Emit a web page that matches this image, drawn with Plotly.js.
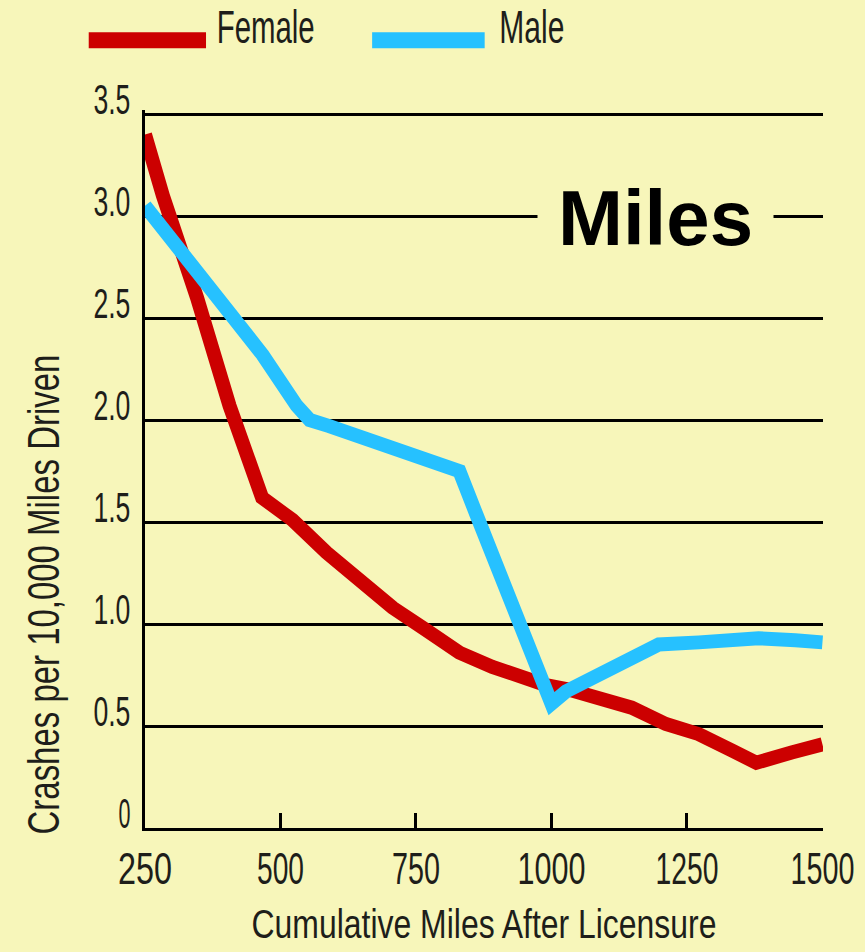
<!DOCTYPE html>
<html>
<head>
<meta charset="utf-8">
<script src="https://cdn.plot.ly/plotly-3.0.1.min.js"></script>
<style>
html,body{margin:0;padding:0;background:#F7F6BA;}
#chart{width:865px;height:952px;}
</style>
</head>
<body>
<div id="chart"></div>
<script>
// Data
const femaleMiles = [250, 283, 346, 406, 466, 522, 585, 646, 707, 769, 830, 891, 953, 990, 1030, 1088, 1148, 1211, 1272, 1333, 1378, 1443, 1500];
const femaleCrashes = [3.40, 3.10, 2.60, 2.07, 1.62, 1.51, 1.35, 1.21, 1.08, 0.97, 0.86, 0.79, 0.73, 0.70, 0.68, 0.64, 0.59, 0.51, 0.46, 0.38, 0.32, 0.37, 0.41];

const maleMiles = [250, 283, 346, 406, 467, 530, 554, 590, 651, 714, 775, 811, 830, 861, 909, 944, 981, 1000, 1027, 1088, 1148, 1198, 1272, 1382, 1450, 1500];
const maleCrashes = [3.05, 2.94, 2.75, 2.55, 2.32, 2.07, 2.00, 1.97, 1.91, 1.85, 1.80, 1.76, 1.75, 1.54, 1.22, 0.99, 0.73, 0.61, 0.67, 0.75, 0.82, 0.90, 0.91, 0.93, 0.92, 0.91];

const xTickVals = [250, 500, 750, 1000, 1250, 1500];
const xTickText = ['250', '500', '750', '1000', '1250', '1500'];
const yTickVals = [0, 0.5, 1.0, 1.5, 2.0, 2.5, 3.0, 3.5];
const yTickText = ['0', '0.5', '1.0', '1.5', '2.0', '2.5', '3.0', '3.5'];

const seriesNames = ['Female', 'Male'];
const seriesColors = ['#CC0000', '#26C1FF'];
const xTitle = 'Cumulative Miles After Licensure';
const yTitle = 'Crashes per 10,000 Miles Driven';
const panelLabel = 'Miles';

const BG = '#F7F6BA';
const FONT = '"Liberation Sans", Arial, Helvetica, sans-serif';
const INK = '#1e1e1a';

const traces = [
  {x: femaleMiles, y: femaleCrashes, name: seriesNames[0], type: 'scatter', mode: 'lines',
   line: {color: seriesColors[0], width: 14}, cliponaxis: false},
  {x: maleMiles, y: maleCrashes, name: seriesNames[1], type: 'scatter', mode: 'lines',
   line: {color: seriesColors[1], width: 14}, cliponaxis: false}
];

const layout = {
  width: 865, height: 952,
  paper_bgcolor: BG, plot_bgcolor: BG,
  margin: {l: 145, r: 42, t: 110, b: 124},
  showlegend: false,
  font: {family: FONT, color: INK},
  xaxis: {
    range: [250, 1501], tickvals: xTickVals, ticktext: xTickText,
    showgrid: false, zeroline: false,
    showline: true, linewidth: 3, linecolor: '#000',
    ticks: 'inside', ticklen: 15, tickwidth: 3, tickcolor: '#000',
    ticklabelstandoff: 0, ticklabeloverflow: 'allow',
    tickfont: {family: FONT, size: 44, color: INK},
    title: {text: xTitle, font: {family: FONT, size: 40, color: INK}, standoff: 19},
    automargin: false, fixedrange: true
  },
  yaxis: {
    range: [0, 3.52], tickvals: yTickVals, ticktext: yTickText,
    showgrid: true, gridcolor: '#000', gridwidth: 3,
    zeroline: false,
    showline: true, linewidth: 3, linecolor: '#000',
    ticks: '', ticklabelstandoff: 3, ticklabelshift: -15, ticklabeloverflow: 'allow',
    tickfont: {family: FONT, size: 43, color: INK},
    automargin: false, fixedrange: true
  },
  annotations: [
    {text: yTitle, textangle: -90, xref: 'paper', yref: 'paper',
     x: -0.149, y: 0.326, xanchor: 'center', yanchor: 'middle', showarrow: false,
     font: {family: FONT, size: 44, color: INK}},
    {text: '<b>' + panelLabel + '</b>', xref: 'x', yref: 'y', x: 1192, y: 2.99, showarrow: false,
     xanchor: 'center', yanchor: 'middle', bgcolor: BG, width: 233, height: 66,
     font: {family: FONT, size: 78, color: '#000'}},
    {text: seriesNames[0], xref: 'paper', yref: 'paper', x: 0.177, y: 1.115,
     xanchor: 'center', yanchor: 'middle', showarrow: false,
     font: {family: FONT, size: 46, color: INK}},
    {text: seriesNames[1], xref: 'paper', yref: 'paper', x: 0.5715, y: 1.115,
     xanchor: 'center', yanchor: 'middle', showarrow: false,
     font: {family: FONT, size: 46, color: INK}}
  ],
  shapes: [
    {type: 'line', xref: 'paper', yref: 'paper', x0: -0.083, x1: 0.090, y0: 1.097, y1: 1.097,
     line: {color: seriesColors[0], width: 16}},
    {type: 'line', xref: 'paper', yref: 'paper', x0: 0.335, x1: 0.501, y0: 1.097, y1: 1.097,
     line: {color: seriesColors[1], width: 16}}
  ]
};

// Rendered widths (px) of the condensed lettering in the original
const textWidths = {
  '0': 12, '0.5': 37, '1.0': 37, '1.5': 37, '2.0': 37, '2.5': 37, '3.0': 37, '3.5': 37,
  '250': 54, '500': 47, '750': 48, '1000': 68, '1250': 63, '1500': 64,
  'Female': 98, 'Male': 65
};
textWidths[xTitle] = 465;
textWidths[yTitle] = 480;

// Condense the lettering horizontally (the original uses a narrow typeface)
function condense() {
  document.querySelectorAll('#chart .xtick text, #chart .ytick text, #chart .g-xtitle text, #chart .annotation-text').forEach(function (t) {
    const w = textWidths[t.textContent];
    if (!w) return;
    const bb = t.getBBox();
    if (!bb.width) return;
    const s = w / bb.width;
    const anchor = t.getAttribute('text-anchor') || 'start';
    let cx = bb.x + bb.width / 2;
    if (anchor === 'end') cx = bb.x + bb.width;
    else if (anchor === 'start') cx = bb.x;
    if (t.closest('.annotation') || t.closest('.g-xtitle')) cx = bb.x + bb.width / 2;
    const tr = t.getAttribute('transform') || '';
    t.setAttribute('transform', (tr + ' translate(' + cx + ',0) scale(' + s.toFixed(4) + ',1) translate(' + (-cx) + ',0)').trim());
  });
}

Plotly.newPlot('chart', traces, layout, {displayModeBar: false, staticPlot: true}).then(condense);
</script>
</body>
</html>
